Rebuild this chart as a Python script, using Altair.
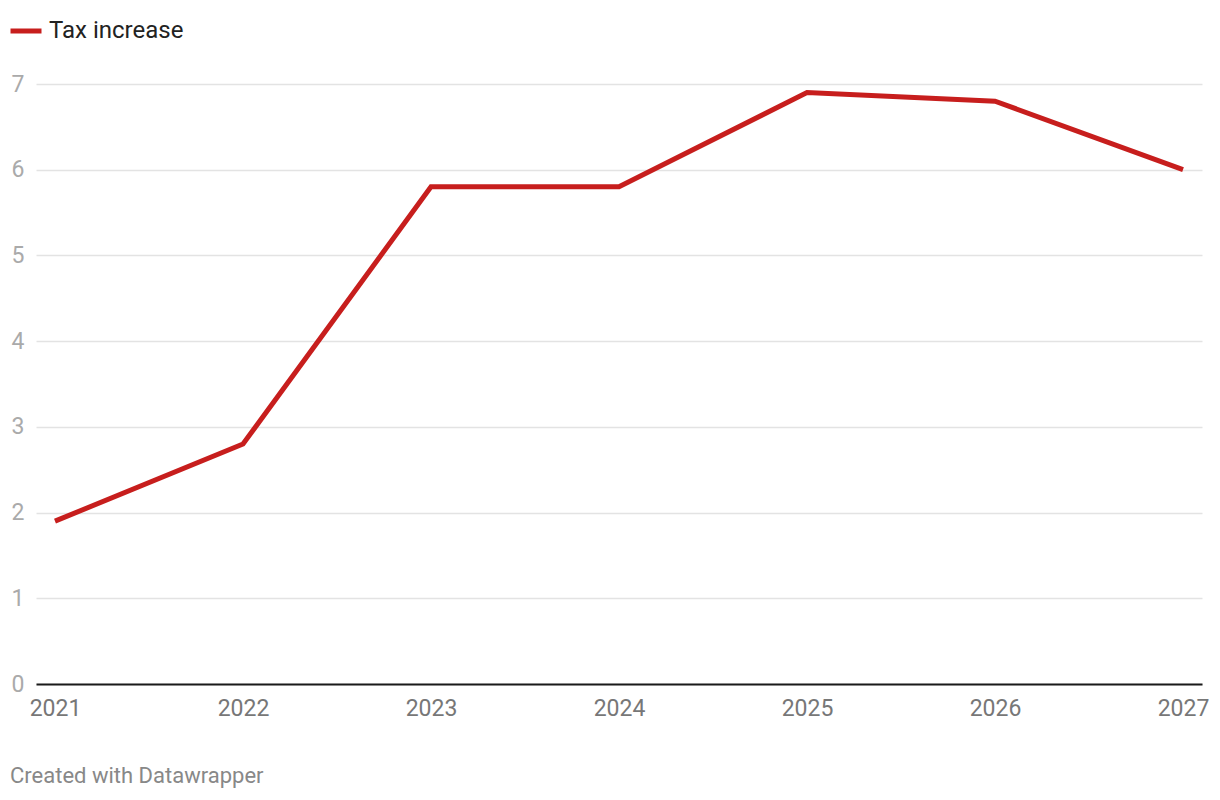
import altair as alt
import pandas as pd

years = ["2021", "2022", "2023", "2024", "2025", "2026", "2027"]
values = [1.9, 2.8, 5.8, 5.8, 6.9, 6.8, 6.0]
series = "Tax increase"

df = pd.DataFrame({"year": years, "value": values, "series": [series] * len(years)})

FONT = "Roboto"

chart = alt.Chart(df).mark_line(strokeWidth=5, color="#c71e1d").encode(
    x=alt.X(
        "year:O",
        title=None,
        scale=alt.Scale(type="point", padding=0.101),
        axis=alt.Axis(
            labelAngle=0,
            labelFont=FONT,
            labelFontSize=23,
            labelColor="#777777",
            labelPadding=13,
            ticks=False,
            domain=True,
            domainColor="#1a1a1a",
            domainWidth=2,
            grid=False,
        ),
    ),
    y=alt.Y(
        "value:Q",
        title=None,
        scale=alt.Scale(domain=[0, 7], nice=False),
        axis=alt.Axis(
            values=[0, 1, 2, 3, 4, 5, 6, 7],
            labelFont=FONT,
            labelFontSize=23,
            labelColor="#aaaaaa",
            labelAlign="left",
            labelPadding=25,
            labelBaseline="middle",
            ticks=False,
            domain=False,
            grid=True,
            gridColor="#e3e3e3",
            gridWidth=1.5,
        ),
    ),
    color=alt.Color(
        "series:N",
        scale=alt.Scale(range=["#c71e1d"]),
        legend=alt.Legend(
            title=None,
            orient="none",
            legendX=-28,
            legendY=-71,
            symbolType="stroke",
            symbolSize=961,
            symbolStrokeWidth=5,
            labelFont=FONT,
            labelFontSize=24,
            labelColor="#222222",
            labelOffset=5,
        ),
    ),
).properties(
    width=1166,
    height=600,
    autosize=alt.AutoSizeParams(type="none"),
    padding={"left": 36, "top": 84, "right": 18, "bottom": 116},
    title=alt.TitleParams(
        "Created with Datawrapper",
        orient="bottom",
        anchor="start",
        frame="bounds",
        font=FONT,
        fontSize=22,
        fontWeight="normal",
        color="#888888",
        offset=46,
        dx=2,
    ),
).configure_view(stroke=None)

chart.save("out.html", embed_options={"renderer": "svg", "actions": False})
